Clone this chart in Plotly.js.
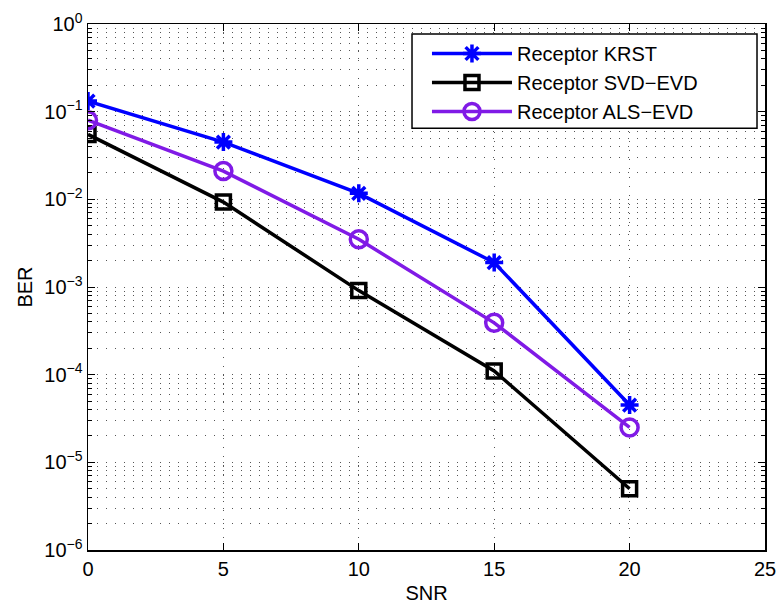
<!DOCTYPE html>
<html><head><meta charset="utf-8">
<script src="https://cdn.plot.ly/plotly-3.0.1.min.js"></script>
<style>body{margin:0;padding:0;background:#fff}#plot{width:779px;height:604px}</style>
</head><body><div id="plot"></div>
<script>
const snr = [0, 5, 10, 15, 20];
const berKRST = [0.132, 0.045, 0.0117, 0.0019, 4.5e-5];
const berSVD = [0.055, 0.0093, 9.1e-4, 1.1e-4, 5.0e-6];
const berALS = [0.080, 0.021, 0.0035, 3.9e-4, 2.5e-5];
const names = ['Receptor KRST', 'Receptor SVD\u2212EVD', 'Receptor ALS\u2212EVD'];
const yTickVals = [1e-6, 1e-5, 1e-4, 1e-3, 1e-2, 1e-1, 1];
const yTickText = ['10<sup>\u22126</sup>','10<sup>\u22125</sup>','10<sup>\u22124</sup>','10<sup>\u22123</sup>','10<sup>\u22122</sup>','10<sup>\u22121</sup>','10<sup>0</sup>'];
const xTickVals = [0, 5, 10, 15, 20, 25];

const purple = 'rgb(128,26,230)';
const traces = [
  {x: snr, y: berKRST, name: names[0], mode: 'lines+markers',
   line: {color: '#0000ff', width: 3.5},
   marker: {symbol: 'asterisk-open', size: 15, color: '#0000ff', line: {color: '#0000ff', width: 3.5}}},
  {x: snr, y: berSVD, name: names[1], mode: 'lines+markers',
   line: {color: '#000000', width: 3.5},
   marker: {symbol: 'square-open', size: 14, color: '#000000', line: {color: '#000000', width: 3.5}}},
  {x: snr, y: berALS, name: names[2], mode: 'lines+markers',
   line: {color: purple, width: 3.5},
   marker: {symbol: 'circle-open', size: 17, color: purple, line: {color: purple, width: 3.5}}}
];
const font = {family: 'Liberation Sans, Arial, sans-serif', color: '#000'};
const gridColor = '#555';
const gridDash = '1px,8px';
const layout = {
  width: 779, height: 604,
  margin: {l: 88, r: 14, t: 24, b: 54},
  paper_bgcolor: '#fff', plot_bgcolor: '#fff',
  font: Object.assign({size: 20}, font),
  showlegend: true,
  legend: {x: 0.5007, xanchor: 'left', y: 0.981, yanchor: 'top',
    bgcolor: 'rgba(0,0,0,0)', borderwidth: 0,
    font: Object.assign({size: 20}, font), itemwidth: 80, tracegroupgap: 0},
  shapes: [{type: 'rect', xref: 'paper', yref: 'paper', x0: 0.4786, x1: 0.9882, y0: 0.802, y1: 0.981,
    line: {color: '#000', width: 1.5}, fillcolor: '#fff', layer: 'above'}],
  xaxis: {range: [0, 25], tickvals: xTickVals, ticktext: xTickVals.map(String),
    showline: true, linecolor: '#000', linewidth: 1.5, mirror: 'ticks',
    ticks: 'inside', ticklen: 7, tickcolor: '#000',
    showgrid: true, gridcolor: gridColor, griddash: gridDash, gridwidth: 1,
    zeroline: false, tickfont: {size: 20},
    title: {text: 'SNR', font: {size: 20}, standoff: 8}},
  yaxis: {type: 'log', range: [-6, 0], tickvals: yTickVals, ticktext: yTickText,
    showline: true, linecolor: '#000', linewidth: 1.5, mirror: 'ticks',
    ticks: 'inside', ticklen: 7, tickcolor: '#000',
    showgrid: true, gridcolor: gridColor, griddash: gridDash, gridwidth: 1,
    zeroline: false, tickfont: {size: 20},
    minor: {dtick: 'D1', showgrid: true, gridcolor: gridColor, griddash: gridDash, gridwidth: 1, ticks: 'inside', ticklen: 4, tickcolor: '#000'},
    title: {text: 'BER', font: {size: 20}, standoff: 6}}
};
Plotly.newPlot('plot', traces, layout, {displayModeBar: false, staticPlot: true});
</script></body></html>
